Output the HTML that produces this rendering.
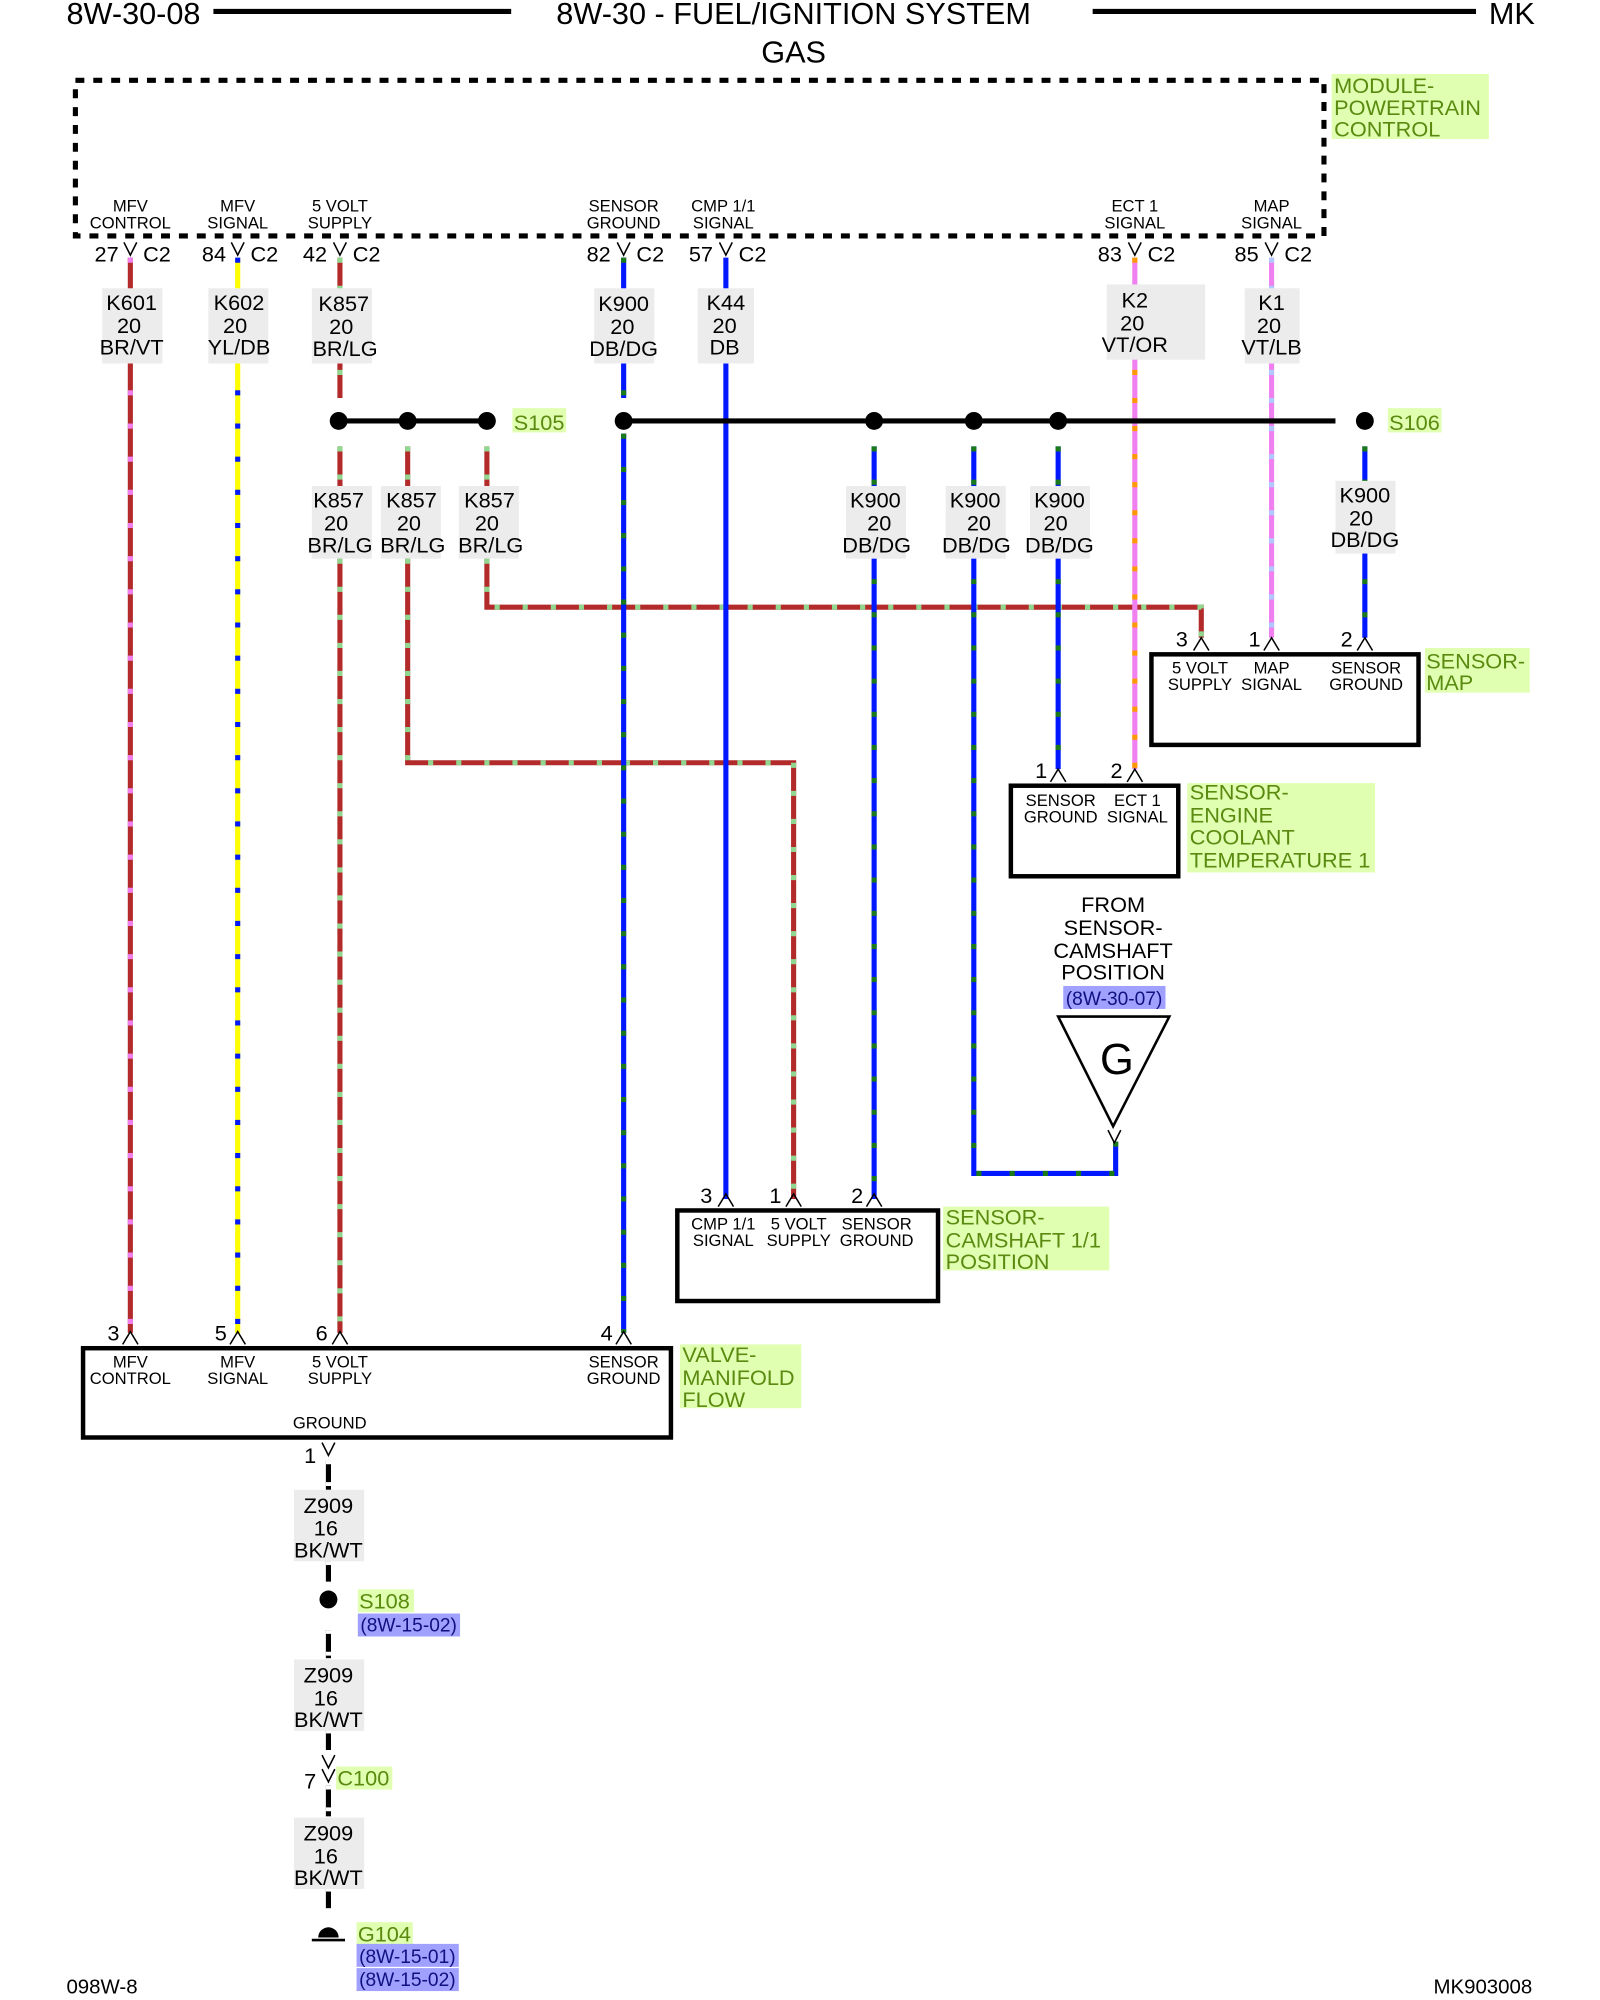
<!DOCTYPE html>
<html><head><meta charset="utf-8"><style>
html,body{margin:0;padding:0;background:#fff}
svg{display:block}
text{font-family:"Liberation Sans",sans-serif;fill:#000}
.w path{fill:none;stroke-width:4}
.brvt path{stroke:#b22a2a}.brvt .s{stroke:#f080f0;stroke-dasharray:4 22}
.yldb path{stroke:#ffff00}.yldb .s{stroke:#0018ff;stroke-dasharray:4 22}
.brlg path{stroke:#b22a2a}.brlg .s{stroke:#90d890;stroke-dasharray:4 18}
.dbdg path{stroke:#0018ff}.dbdg .s{stroke:#1a7a1a;stroke-dasharray:4 22}
.db path{stroke:#0018ff}
.vtor path{stroke:#f080f0}.vtor .s{stroke:#ff9900;stroke-dasharray:4 18}
.vtlb path{stroke:#f080f0}.vtlb .s{stroke:#b0c8ff;stroke-dasharray:4 18}
.bkwt path{stroke:#000}.bkwt .s{stroke:#fff;stroke-dasharray:3 14}
.lb{fill:#ececec}
.t17{font-size:17px;text-anchor:middle}
.t13{font-size:13px;text-anchor:middle}
.t16{font-size:16px}
.g{fill:#5a8a10;font-size:17px}
.gb{fill:#e0ffb0}
.bb{fill:#a0a0ff}
.bt{fill:#101080;font-size:15px}
.ch{fill:none;stroke:#000;stroke-width:1.2}
.box{fill:none;stroke:#000;stroke-width:3.5}
</style></head><body>
<svg width="1600" height="2000" viewBox="0 0 1252 1568" preserveAspectRatio="none" xmlns="http://www.w3.org/2000/svg">
<!-- header -->
<text x="52" y="19" font-size="24">8W-30-08</text>
<line x1="167" y1="9" x2="400" y2="9" stroke="#000" stroke-width="4"/>
<text x="621" y="19" font-size="24" text-anchor="middle">8W-30 - FUEL/IGNITION SYSTEM</text>
<text x="621" y="49" font-size="24" text-anchor="middle">GAS</text>
<line x1="855" y1="9" x2="1155" y2="9" stroke="#000" stroke-width="4"/>
<text x="1165" y="19" font-size="24">MK</text>

<!-- PCM box -->
<rect x="59" y="63" width="977" height="122" fill="none" stroke="#000" stroke-width="4" stroke-dasharray="7 7"/>
<rect x="1042" y="58" width="123" height="51" class="gb"/>
<text class="g" x="1044" y="73">MODULE-</text>
<text class="g" x="1044" y="90">POWERTRAIN</text>
<text class="g" x="1044" y="107">CONTROL</text>

<g class="t13">
<text x="102" y="166">MFV</text><text x="102" y="179">CONTROL</text>
<text x="186" y="166">MFV</text><text x="186" y="179">SIGNAL</text>
<text x="266" y="166">5 VOLT</text><text x="266" y="179">SUPPLY</text>
<text x="488" y="166">SENSOR</text><text x="488" y="179">GROUND</text>
<text x="566" y="166">CMP 1/1</text><text x="566" y="179">SIGNAL</text>
<text x="888" y="166">ECT 1</text><text x="888" y="179">SIGNAL</text>
<text x="995" y="166">MAP</text><text x="995" y="179">SIGNAL</text>
</g>
<g font-size="17">
<text x="74" y="205">27</text><text x="112" y="205">C2</text>
<text x="158" y="205">84</text><text x="196" y="205">C2</text>
<text x="237" y="205">42</text><text x="276" y="205">C2</text>
<text x="459" y="205">82</text><text x="498" y="205">C2</text>
<text x="539" y="205">57</text><text x="578" y="205">C2</text>
<text x="859" y="205">83</text><text x="898" y="205">C2</text>
<text x="966" y="205">85</text><text x="1005" y="205">C2</text>
</g>
<g class="ch">
<path d="M97 190 L102 200 L107 190"/><path d="M181 190 L186 200 L191 190"/><path d="M261 190 L266 200 L271 190"/>
<path d="M483 190 L488 200 L493 190"/><path d="M563 190 L568 200 L573 190"/><path d="M883 190 L888 200 L893 190"/><path d="M990 190 L995 200 L1000 190"/>
</g>

<!-- wires -->
<g class="w brvt"><path d="M102 202 V1045"/><path class="s" d="M102 202 V1045"/></g>
<g class="w yldb"><path d="M186 202 V1045"/><path class="s" d="M186 202 V1045"/></g>
<g class="w brlg"><path d="M266 202 V312"/><path class="s" d="M266 202 V312"/></g>
<g class="w brlg"><path d="M266 350 V1045"/><path class="s" d="M266 350 V1045"/></g>
<g class="w brlg"><path d="M319 350 V598 H621 V940"/><path class="s" d="M319 350 V598 H621 V940"/></g>
<g class="w brlg"><path d="M381 350 V476 H940 V500"/><path class="s" d="M381 350 V476 H940 V500"/></g>
<g class="w dbdg"><path d="M488 202 V312"/><path class="s" d="M488 202 V312"/></g>
<g class="w dbdg"><path d="M488 340 V1045"/><path class="s" d="M488 340 V1045"/></g>
<g class="w db"><path d="M568 202 V940"/></g>
<g class="w dbdg"><path d="M684 350 V940"/><path class="s" d="M684 350 V940"/></g>
<g class="w dbdg"><path d="M762 350 V920 H873 V895"/><path class="s" d="M762 350 V920 H873 V895"/></g>
<g class="w dbdg"><path d="M828 350 V603"/><path class="s" d="M828 350 V603"/></g>
<g class="w vtor"><path d="M888 202 V603"/><path class="s" d="M888 202 V603"/></g>
<g class="w vtlb"><path d="M995 202 V500"/><path class="s" d="M995 202 V500"/></g>
<g class="w dbdg"><path d="M1068 350 V500"/><path class="s" d="M1068 350 V500"/></g>

<!-- buses -->
<line x1="265" y1="330" x2="381" y2="330" stroke="#000" stroke-width="4"/>
<line x1="488" y1="330" x2="1045" y2="330" stroke="#000" stroke-width="4"/>
<g fill="#000">
<circle cx="265" cy="330" r="7"/><circle cx="319" cy="330" r="7"/><circle cx="381" cy="330" r="7"/>
<circle cx="488" cy="330" r="7"/><circle cx="684" cy="330" r="7"/><circle cx="762" cy="330" r="7"/><circle cx="828" cy="330" r="7"/><circle cx="1068" cy="330" r="7"/>
</g>
<rect x="401" y="320" width="42" height="19" class="gb"/><text class="g" x="402" y="337">S105</text>
<rect x="1086" y="320" width="42" height="19" class="gb"/><text class="g" x="1087" y="337">S106</text>

<!-- wire labels -->
<g>
<rect class="lb" x="80" y="226" width="47" height="59"/><rect class="lb" x="163" y="226" width="47" height="59"/><rect class="lb" x="244" y="226" width="47" height="59"/>
<rect class="lb" x="465" y="226" width="47" height="59"/><rect class="lb" x="546" y="226" width="44" height="59"/>
<rect class="lb" x="866" y="223" width="77" height="59"/><rect class="lb" x="974" y="226" width="43" height="59"/>
<rect class="lb" x="244" y="381" width="47" height="57"/><rect class="lb" x="298" y="381" width="47" height="57"/><rect class="lb" x="359" y="381" width="47" height="57"/>
<rect class="lb" x="662" y="381" width="47" height="57"/><rect class="lb" x="740" y="381" width="47" height="57"/><rect class="lb" x="806" y="381" width="47" height="57"/>
<rect class="lb" x="1045" y="377" width="47" height="57"/>
</g>
<g class="t17">
<text x="103" y="243">K601</text><text x="101" y="261">20</text><text x="103" y="278">BR/VT</text>
<text x="187" y="243">K602</text><text x="184" y="261">20</text><text x="187" y="278">YL/DB</text>
<text x="269" y="244">K857</text><text x="267" y="262">20</text><text x="270" y="279">BR/LG</text>
<text x="488" y="244">K900</text><text x="487" y="262">20</text><text x="488" y="279">DB/DG</text>
<text x="568" y="243">K44</text><text x="567" y="261">20</text><text x="567" y="278">DB</text>
<text x="888" y="241">K2</text><text x="886" y="259">20</text><text x="888" y="276">VT/OR</text>
<text x="995" y="243">K1</text><text x="993" y="261">20</text><text x="995" y="278">VT/LB</text>
<text x="265" y="398">K857</text><text x="263" y="416">20</text><text x="266" y="433">BR/LG</text>
<text x="322" y="398">K857</text><text x="320" y="416">20</text><text x="323" y="433">BR/LG</text>
<text x="383" y="398">K857</text><text x="381" y="416">20</text><text x="384" y="433">BR/LG</text>
<text x="685" y="398">K900</text><text x="688" y="416">20</text><text x="686" y="433">DB/DG</text>
<text x="763" y="398">K900</text><text x="766" y="416">20</text><text x="764" y="433">DB/DG</text>
<text x="829" y="398">K900</text><text x="826" y="416">20</text><text x="829" y="433">DB/DG</text>
<text x="1068" y="394">K900</text><text x="1065" y="412">20</text><text x="1068" y="429">DB/DG</text>
</g>

<!-- Sensor MAP -->
<rect class="box" x="901" y="513" width="209" height="71"/>
<g class="t13"><text x="939" y="528">5 VOLT</text><text x="939" y="541">SUPPLY</text>
<text x="995" y="528">MAP</text><text x="995" y="541">SIGNAL</text>
<text x="1069" y="528">SENSOR</text><text x="1069" y="541">GROUND</text></g>
<g font-size="17"><text x="920" y="507">3</text><text x="977" y="507">1</text><text x="1049" y="507">2</text></g>
<g class="ch"><path d="M934 510 L940 500 L946 510"/><path d="M989 510 L995 500 L1001 510"/><path d="M1062 510 L1068 500 L1074 510"/></g>
<rect x="1115" y="508" width="82" height="35" class="gb"/><text class="g" x="1116" y="524">SENSOR-</text><text class="g" x="1116" y="541">MAP</text>

<!-- ECT -->
<rect class="box" x="791" y="616" width="131" height="71"/>
<g class="t13"><text x="830" y="632">SENSOR</text><text x="830" y="645">GROUND</text><text x="890" y="632">ECT 1</text><text x="890" y="645">SIGNAL</text></g>
<g font-size="17"><text x="810" y="610">1</text><text x="869" y="610">2</text></g>
<g class="ch"><path d="M822 613 L828 603 L834 613"/><path d="M882 613 L888 603 L894 613"/></g>
<rect x="929" y="614" width="147" height="70" class="gb"/>
<text class="g" x="931" y="627">SENSOR-</text><text class="g" x="931" y="645">ENGINE</text><text class="g" x="931" y="662">COOLANT</text><text class="g" x="931" y="680">TEMPERATURE 1</text>

<!-- From camshaft -->
<g class="t17"><text x="871" y="715">FROM</text><text x="871" y="733">SENSOR-</text><text x="871" y="751">CAMSHAFT</text><text x="871" y="768">POSITION</text></g>
<rect x="832" y="773" width="80" height="18" class="bb"/><text class="bt" x="834" y="788">(8W-30-07)</text>
<path d="M828 797 L915 797 L871 883 Z" fill="none" stroke="#000" stroke-width="2"/>
<text x="874" y="842" font-size="34" text-anchor="middle">G</text>
<path class="ch" d="M867 886 L872 896 L877 886"/>

<!-- Camshaft sensor -->
<rect class="box" x="530" y="949" width="204" height="71"/>
<g class="t13"><text x="566" y="964">CMP 1/1</text><text x="566" y="977">SIGNAL</text>
<text x="625" y="964">5 VOLT</text><text x="625" y="977">SUPPLY</text>
<text x="686" y="964">SENSOR</text><text x="686" y="977">GROUND</text></g>
<g font-size="17"><text x="548" y="943">3</text><text x="602" y="943">1</text><text x="666" y="943">2</text></g>
<g class="ch"><path d="M562 946 L568 936 L574 946"/><path d="M615 946 L621 936 L627 946"/><path d="M678 946 L684 936 L690 946"/></g>
<rect x="738" y="946" width="130" height="50" class="gb"/>
<text class="g" x="740" y="960">SENSOR-</text><text class="g" x="740" y="978">CAMSHAFT 1/1</text><text class="g" x="740" y="995">POSITION</text>

<!-- Valve -->
<rect class="box" x="65" y="1057" width="460" height="70"/>
<g class="t13"><text x="102" y="1072">MFV</text><text x="102" y="1085">CONTROL</text>
<text x="186" y="1072">MFV</text><text x="186" y="1085">SIGNAL</text>
<text x="266" y="1072">5 VOLT</text><text x="266" y="1085">SUPPLY</text>
<text x="488" y="1072">SENSOR</text><text x="488" y="1085">GROUND</text>
<text x="258" y="1120">GROUND</text></g>
<g font-size="17"><text x="84" y="1051">3</text><text x="168" y="1051">5</text><text x="247" y="1051">6</text><text x="470" y="1051">4</text><text x="238" y="1147">1</text></g>
<g class="ch"><path d="M96 1054 L102 1044 L108 1054"/><path d="M180 1054 L186 1044 L192 1054"/><path d="M260 1054 L266 1044 L272 1054"/><path d="M482 1054 L488 1044 L494 1054"/>
<path d="M252 1131 L257 1141 L262 1131"/></g>
<rect x="532" y="1054" width="95" height="50" class="gb"/>
<text class="g" x="534" y="1068">VALVE-</text><text class="g" x="534" y="1086">MANIFOLD</text><text class="g" x="534" y="1103">FLOW</text>

<!-- ground chain -->
<g class="w bkwt"><path d="M257 1145 V1168"/><path class="s" d="M257 1145 V1168"/></g>
<g class="w bkwt"><path d="M257 1224 V1240"/><path class="s" d="M257 1224 V1240"/></g>
<g class="w bkwt"><path d="M257 1278 V1300"/><path class="s" d="M257 1278 V1300"/></g>
<g class="w bkwt"><path d="M257 1356 V1372"/><path class="s" d="M257 1356 V1372"/></g>
<g class="w bkwt"><path d="M257 1400 V1424"/><path class="s" d="M257 1400 V1424"/></g>
<g class="w bkwt"><path d="M257 1480 V1496"/><path class="s" d="M257 1480 V1496"/></g>
<rect class="lb" x="230" y="1168" width="55" height="56"/>
<rect class="lb" x="230" y="1301" width="55" height="56"/>
<rect class="lb" x="230" y="1425" width="55" height="56"/>
<g class="t17">
<text x="257" y="1186">Z909</text><text x="255" y="1204">16</text><text x="257" y="1221">BK/WT</text>
<text x="257" y="1319">Z909</text><text x="255" y="1337">16</text><text x="257" y="1354">BK/WT</text>
<text x="257" y="1443">Z909</text><text x="255" y="1461">16</text><text x="257" y="1478">BK/WT</text>
</g>
<circle cx="257" cy="1254" r="7" fill="#000"/>
<rect x="280" y="1246" width="44" height="18" class="gb"/><text class="g" x="281" y="1261">S108</text>
<rect x="280" y="1265" width="80" height="18" class="bb"/><text class="bt" x="282" y="1279">(8W-15-02)</text>
<g class="ch"><path d="M252 1376 L257 1386 L262 1376"/><path d="M252 1387 L257 1397 L262 1387"/></g>
<text x="238" y="1402" font-size="17">7</text>
<rect x="263" y="1385" width="44" height="18" class="gb"/><text class="g" x="264" y="1400">C100</text>
<path d="M249 1519 A8 8 0 0 1 265 1519 Z" fill="#000"/>
<line x1="244" y1="1521" x2="270" y2="1521" stroke="#000" stroke-width="2"/>
<rect x="279" y="1507" width="44" height="18" class="gb"/><text class="g" x="280" y="1522">G104</text>
<rect x="279" y="1524" width="80" height="18" class="bb"/><text class="bt" x="281" y="1539">(8W-15-01)</text>
<rect x="279" y="1543" width="80" height="18" class="bb"/><text class="bt" x="281" y="1557">(8W-15-02)</text>

<text x="52" y="1563" font-size="16">098W-8</text>
<text x="1199" y="1563" font-size="16" text-anchor="end">MK903008</text>
</svg>
</body></html>
